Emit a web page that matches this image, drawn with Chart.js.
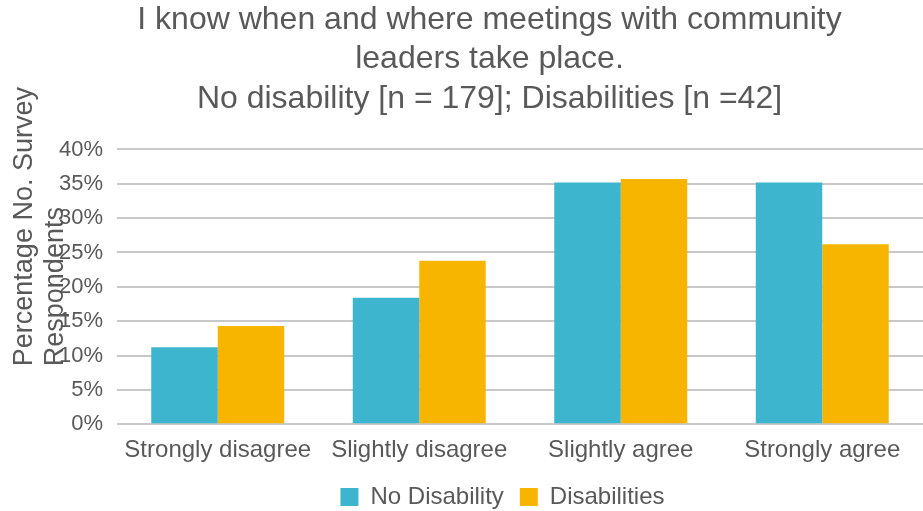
<!DOCTYPE html>
<html>
<head>
<meta charset="utf-8">
<title>Community meetings survey</title>
<script src="https://cdn.jsdelivr.net/npm/chart.js@4.4.1/dist/chart.umd.min.js"></script>
<style>
    body { margin: 0; background: #ffffff; }
    #wrap { width: 923px; height: 511px; position: relative; }
</style>
</head>
<body>
<div id="wrap"><canvas id="myChart"></canvas></div>
<script>
const categories = ["Strongly disagree", "Slightly disagree", "Slightly agree", "Strongly agree"];
const seriesNames = ["No Disability", "Disabilities"];
const noDisability = [11.2, 18.4, 35.2, 35.2];
const disabilities = [14.3, 23.8, 35.7, 26.2];
const yTicks = [0, 5, 10, 15, 20, 25, 30, 35, 40];
const titleLines = [
    "I know when and where meetings with community",
    "leaders take place.",
    "No disability [n = 179]; Disabilities [n =42]"
];
const yTitleLines = ["Percentage No. Survey", "Respondents"];

const fontFamily = "'Liberation Sans', Arial, sans-serif";
const textColor = "#595959";

// axis title sits over the tick labels, both lines starting from the same end
const yTitlePlugin = {
    id: 'yTitle',
    afterDraw(chart) {
        const ctx = chart.ctx;
        const startY = chart.chartArea.bottom - 58;
        ctx.save();
        ctx.fillStyle = textColor;
        ctx.font = "27px " + fontFamily;
        ctx.textAlign = "left";
        ctx.textBaseline = "middle";
        const xs = [25, 56];
        for (let i = 0; i < yTitleLines.length; i++) {
            ctx.save();
            ctx.translate(xs[i], startY);
            ctx.rotate(-Math.PI / 2);
            ctx.fillText(yTitleLines[i], 0, 0);
            ctx.restore();
        }
        ctx.restore();
    }
};

// nudge the legend so it sits under the middle of the plot area
const legendShift = {
    id: 'legendShift',
    afterLayout(chart) {
        chart.legend.left += 13;
        chart.legend.right += 13;
    }
};

const ctx = document.getElementById('myChart').getContext('2d');
const myChart = new Chart(ctx, {
    type: 'bar',
    data: {
        labels: categories,
        datasets: [{
            label: seriesNames[0],
            data: noDisability,
            backgroundColor: '#3db5ce',
            borderWidth: 0
        }, {
            label: seriesNames[1],
            data: disabilities,
            backgroundColor: '#f8b500',
            borderWidth: 0
        }]
    },
    options: {
        responsive: true,
        maintainAspectRatio: false,
        animation: false,
        layout: { padding: { top: 0, right: 0, bottom: -8, left: 56 } },
        datasets: {
            bar: { categoryPercentage: 0.66, barPercentage: 1.0 }
        },
        plugins: {
            title: {
                display: true,
                text: titleLines,
                color: textColor,
                font: { family: fontFamily, size: 32, weight: 'normal', lineHeight: 1.234 },
                padding: { top: 0, bottom: 31 }
            },
            legend: {
                position: 'bottom',
                labels: {
                    color: textColor,
                    font: { family: fontFamily, size: 24 },
                    boxWidth: 18,
                    boxHeight: 18,
                    padding: 16
                }
            },
            tooltip: { enabled: false }
        },
        scales: {
            x: {
                grid: { display: false },
                border: { display: false },
                ticks: {
                    color: textColor,
                    font: { family: fontFamily, size: 24 },
                    padding: 4,
                    maxRotation: 0
                }
            },
            y: {
                min: 0,
                max: 40,
                afterFit: (scale) => { scale.width = 61; },
                afterBuildTicks: (scale) => { scale.ticks = yTicks.map(v => ({ value: v })); },
                grid: { color: '#c8c8c8', lineWidth: 2, drawTicks: false },
                border: { display: false },
                ticks: {
                    color: textColor,
                    font: { family: fontFamily, size: 22 },
                    padding: 14,
                    callback: (v) => v + '%'
                }
            }
        }
    },
    plugins: [yTitlePlugin, legendShift]
});
</script>
</body>
</html>
